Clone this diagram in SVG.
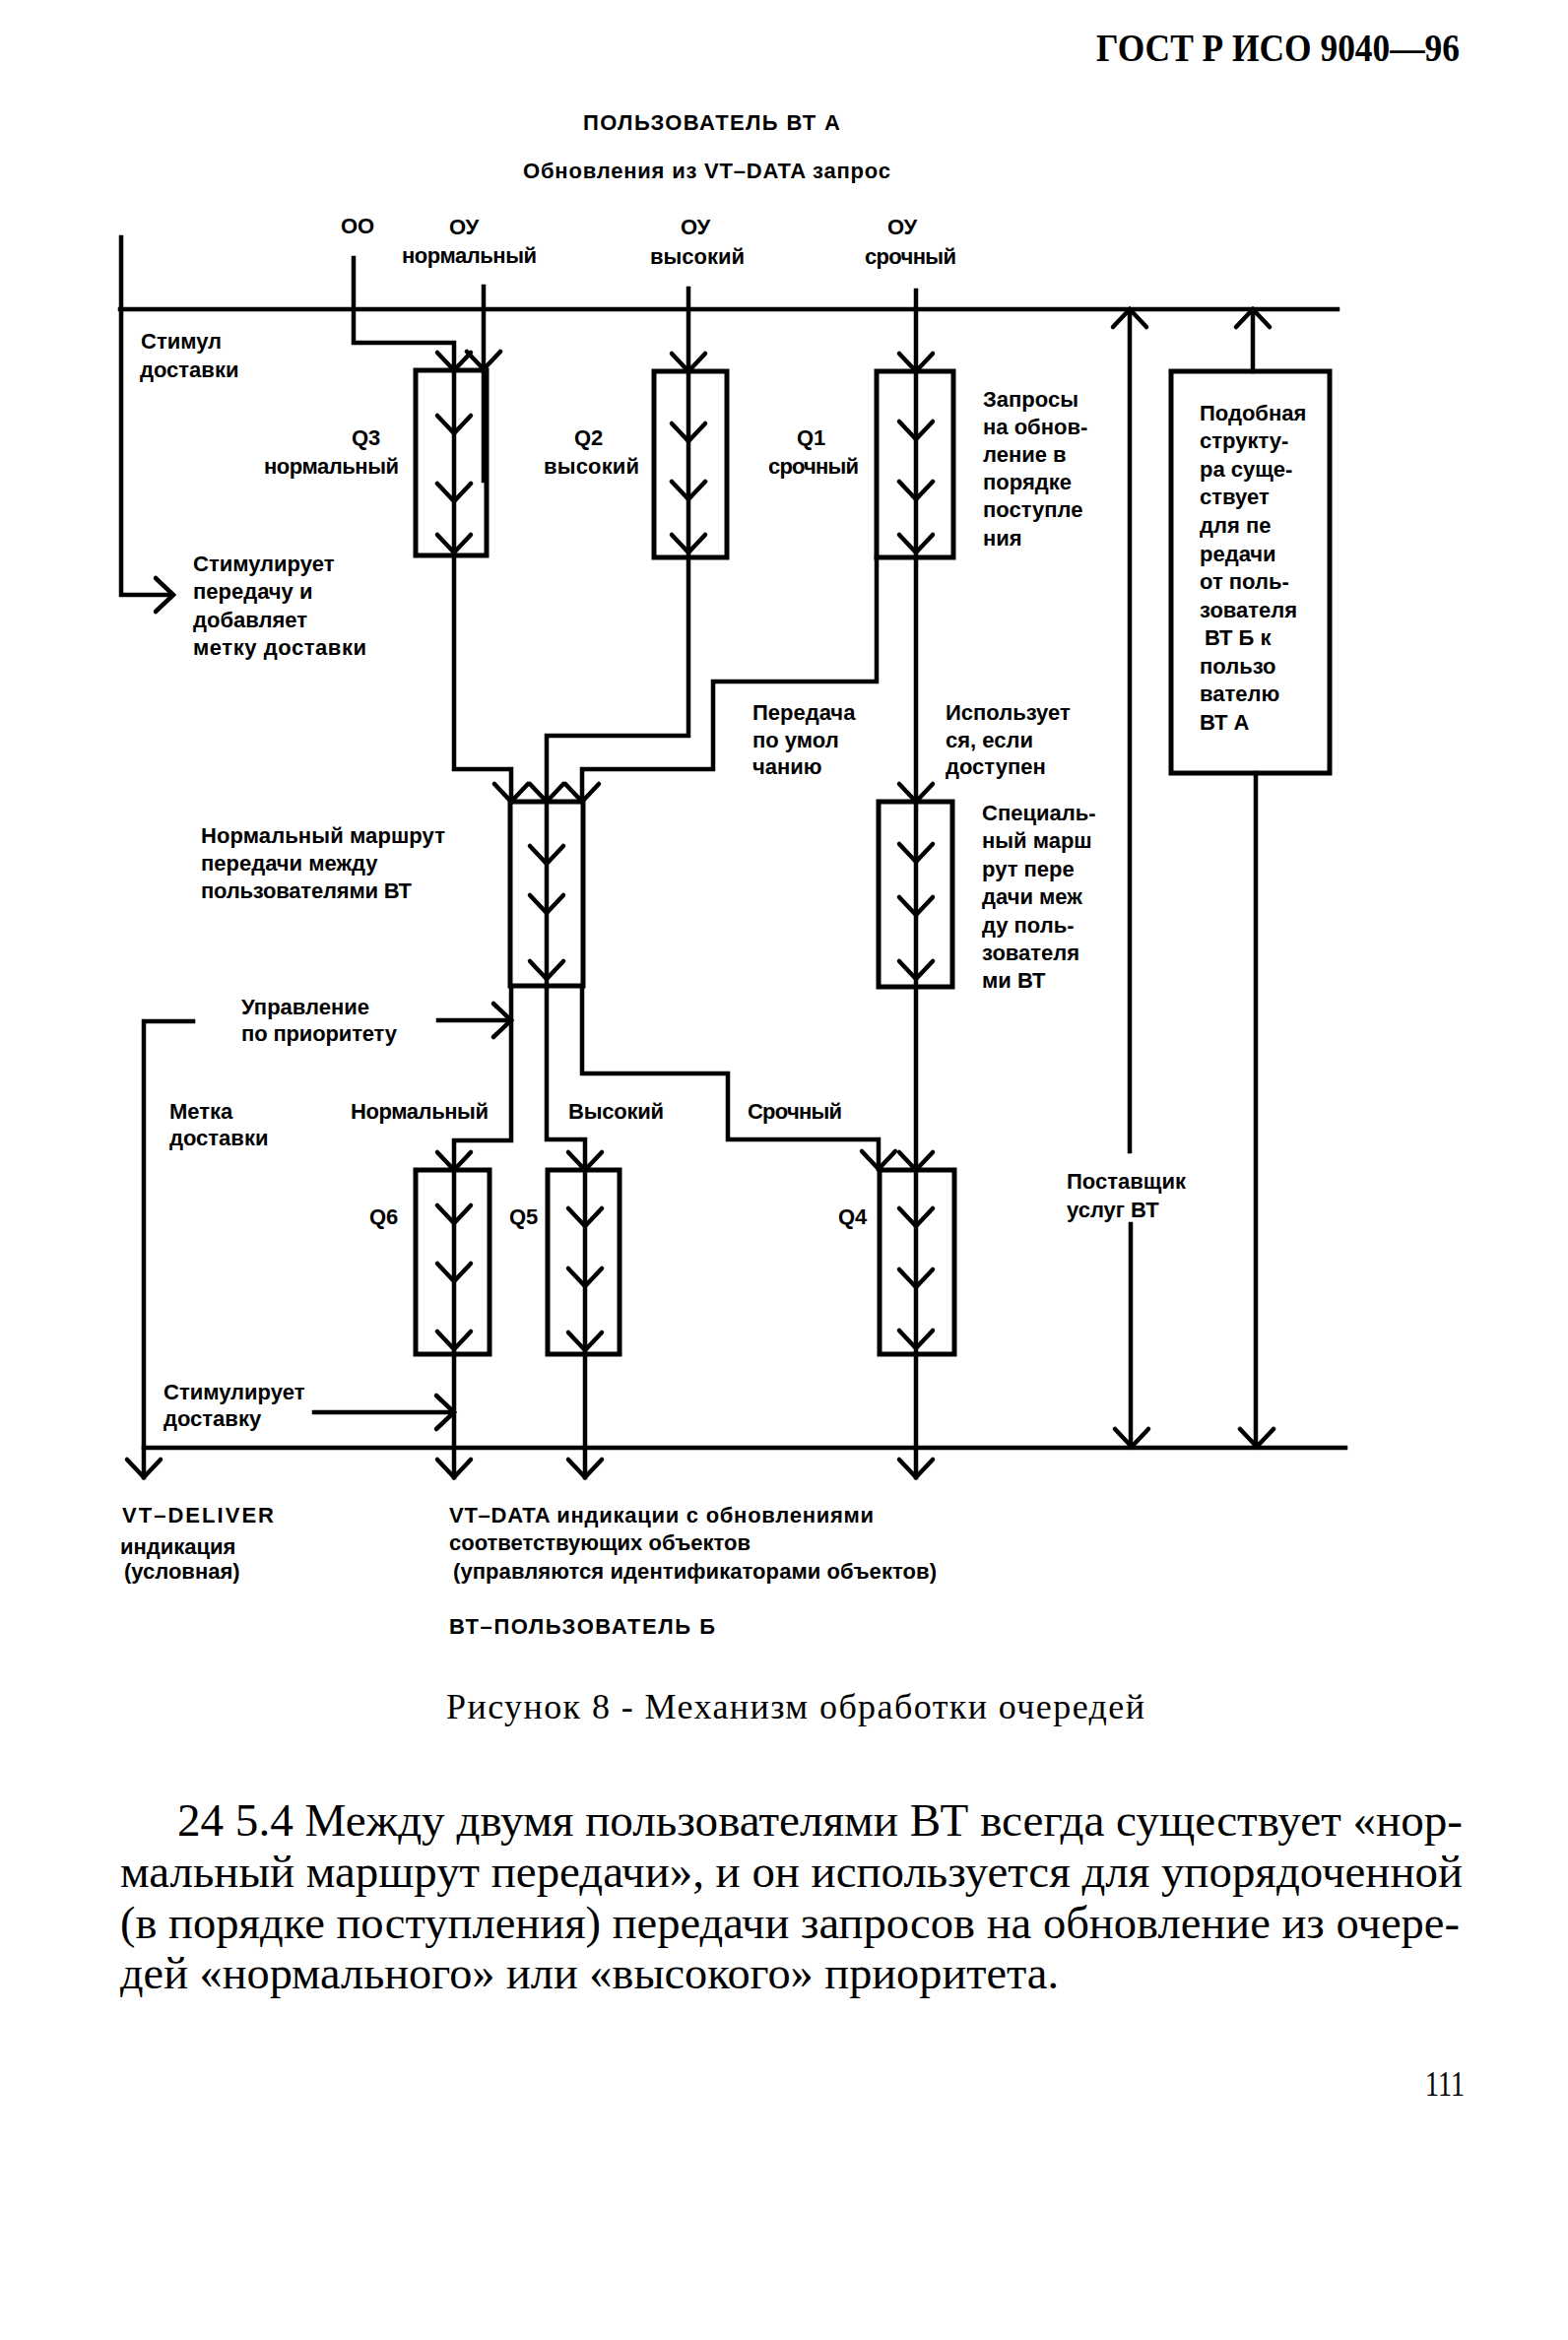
<svg xmlns="http://www.w3.org/2000/svg" xmlns:xlink="http://www.w3.org/1999/xlink" width="1592" height="2376" viewBox="0 0 1592 2376">
<style>
.ln{fill:none;stroke:#000;stroke-width:4.5;stroke-linejoin:miter;stroke-linecap:square}
.bx{fill:none;stroke:#000;stroke-width:5}
.ch{fill:none;stroke:#000;stroke-width:4.5;stroke-linecap:round;stroke-linejoin:miter}
.t{font-family:'Liberation Sans',Arial,sans-serif;font-size:22px;font-weight:bold;fill:#000}
.s{font-family:'Liberation Serif','Times New Roman',serif;fill:#000}
</style>
<defs>
<path id="cd" class="ch" d="M-17,-18 L0,0 L17,-18"/>
<path id="cu" class="ch" d="M-17,18 L0,0 L17,18"/>
<path id="cr" class="ch" d="M-18,-17 L0,0 L-18,17"/>
</defs>
<rect width="1592" height="2376" fill="#fff"/>

<text class="s" x="1113" y="62" font-size="40" font-weight="bold" textLength="369" lengthAdjust="spacingAndGlyphs">ГОСТ Р ИСО 9040—96</text>

<g id="header-labels">
<text class="t" x="592" y="132" textLength="261">ПОЛЬЗОВАТЕЛЬ ВТ А</text>
<text class="t" x="531" y="181" textLength="373">Обновления из VT–DATA запрос</text>
<text class="t" x="346" y="237">ОО</text>
<text class="t" x="456" y="238">ОУ</text>
<text class="t" x="408" y="267" textLength="137">нормальный</text>
<text class="t" x="691" y="238">ОУ</text>
<text class="t" x="660" y="268" textLength="96">высокий</text>
<text class="t" x="901" y="238">ОУ</text>
<text class="t" x="878" y="268" textLength="93">срочный</text>
</g>

<g id="connectors">
<path class="ln" d="M122,314 H1358"/>
<path class="ln" d="M123,241 V604 H174"/>
<path class="ln" d="M359,262 V348 H461 V781 H519 V814"/>
<path class="ln" d="M491,291 V488"/>
<path class="ln" d="M699,293 V747 H555 V814"/>
<path class="ln" d="M930,295 V1500"/>
<path class="ln" d="M890,566 V692 H724 V781 H591 V814"/>
<path class="ln" d="M555,814 V1002"/>
<path class="ln" d="M519,1002 V1158 H461 V1500"/>
<path class="ln" d="M555,1002 V1157 H594 V1500"/>
<path class="ln" d="M591,1002 V1090 H739 V1157 H892 V1187"/>
<path class="ln" d="M445,1036 H517"/>
<path class="ln" d="M196,1037 H146 V1500"/>
<path class="ln" d="M146,1470 H1366"/>
<path class="ln" d="M319,1434 H459"/>
<path class="ln" d="M1147,316 V1169"/>
<path class="ln" d="M1148,1243 V1468"/>
<path class="ln" d="M1272,316 V377"/>
<path class="ln" d="M1275,785 V1468"/>
<use href="#cr" x="176" y="604"/>
<use href="#cr" x="519" y="1036"/>
<use href="#cr" x="461" y="1434"/>
<use href="#cu" x="1147" y="314"/>
<use href="#cu" x="1272" y="314"/>
<use href="#cd" x="1149" y="1469"/>
<use href="#cd" x="1276" y="1469"/>
<use href="#cd" x="146" y="1500"/>
<use href="#cd" x="461" y="1500"/>
<use href="#cd" x="594" y="1500"/>
<use href="#cd" x="930" y="1500"/>
</g>

<g id="q3">
<rect class="bx" x="422" y="376" width="72" height="188"/>
<use href="#cd" x="461" y="376"/><use href="#cd" x="491" y="375"/>
<use href="#cd" x="461" y="440"/><use href="#cd" x="461" y="509"/><use href="#cd" x="461" y="561"/>
<text class="t" x="357" y="452">Q3</text>
<text class="t" x="268" y="481" textLength="137">нормальный</text>
</g>
<g id="q2">
<rect class="bx" x="664" y="377" width="74" height="189"/>
<use href="#cd" x="699" y="377"/><use href="#cd" x="699" y="448"/><use href="#cd" x="699" y="507"/><use href="#cd" x="699" y="561"/>
<text class="t" x="583" y="452">Q2</text>
<text class="t" x="552" y="481" textLength="97">высокий</text>
</g>
<g id="q1">
<rect class="bx" x="890" y="377" width="78" height="189"/>
<use href="#cd" x="930" y="377"/><use href="#cd" x="930" y="446"/><use href="#cd" x="930" y="507"/><use href="#cd" x="930" y="561"/>
<text class="t" x="809" y="452">Q1</text>
<text class="t" x="780" y="481" textLength="92">срочный</text>
<text class="t" x="998" y="413">Запросы</text>
<text class="t" x="998" y="441">на обнов-</text>
<text class="t" x="998" y="469">ление в</text>
<text class="t" x="998" y="497">порядке</text>
<text class="t" x="998" y="525">поступле</text>
<text class="t" x="998" y="554">ния</text>
</g>
<g id="similar">
<rect class="bx" x="1189" y="377" width="161" height="408"/>
<text class="t" x="1218" y="427">Подобная</text>
<text class="t" x="1218" y="455">структу-</text>
<text class="t" x="1218" y="484">ра суще-</text>
<text class="t" x="1218" y="512">ствует</text>
<text class="t" x="1218" y="541">для пе</text>
<text class="t" x="1218" y="570">редачи</text>
<text class="t" x="1218" y="598">от поль-</text>
<text class="t" x="1218" y="627">зователя</text>
<text class="t" x="1223" y="655">ВТ Б к</text>
<text class="t" x="1218" y="684">пользо</text>
<text class="t" x="1218" y="712">вателю</text>
<text class="t" x="1218" y="741">ВТ А</text>
</g>
<g id="normal-route">
<rect class="bx" x="518" y="814" width="74" height="187"/>
<use href="#cd" x="519" y="814"/><use href="#cd" x="555" y="814"/><use href="#cd" x="591" y="814"/>
<use href="#cd" x="555" y="877"/><use href="#cd" x="555" y="927"/><use href="#cd" x="555" y="994"/>
<text class="t" x="204" y="856" textLength="248">Нормальный маршрут</text>
<text class="t" x="204" y="884">передачи между</text>
<text class="t" x="204" y="912" textLength="214">пользователями ВТ</text>
</g>
<g id="special-route">
<rect class="bx" x="892" y="814" width="75" height="188"/>
<use href="#cd" x="930" y="814"/><use href="#cd" x="930" y="875"/><use href="#cd" x="930" y="929"/><use href="#cd" x="930" y="994"/>
<text class="t" x="997" y="833">Специаль-</text>
<text class="t" x="997" y="861">ный марш</text>
<text class="t" x="997" y="890">рут пере</text>
<text class="t" x="997" y="918">дачи меж</text>
<text class="t" x="997" y="947">ду поль-</text>
<text class="t" x="997" y="975">зователя</text>
<text class="t" x="997" y="1003">ми ВТ</text>
</g>
<g id="q6">
<rect class="bx" x="422" y="1188" width="75" height="187"/>
<use href="#cd" x="461" y="1188"/><use href="#cd" x="461" y="1242"/><use href="#cd" x="461" y="1301"/><use href="#cd" x="461" y="1370"/>
<text class="t" x="375" y="1243">Q6</text>
</g>
<g id="q5">
<rect class="bx" x="556" y="1188" width="73" height="187"/>
<use href="#cd" x="594" y="1188"/><use href="#cd" x="594" y="1245"/><use href="#cd" x="594" y="1306"/><use href="#cd" x="594" y="1371"/>
<text class="t" x="517" y="1243">Q5</text>
</g>
<g id="q4">
<rect class="bx" x="893" y="1188" width="76" height="187"/>
<use href="#cd" x="892" y="1187"/><use href="#cd" x="930" y="1188"/><use href="#cd" x="930" y="1245"/><use href="#cd" x="930" y="1307"/><use href="#cd" x="930" y="1369"/>
<text class="t" x="851" y="1243">Q4</text>
</g>

<g id="labels">
<text class="t" x="143" y="354">Стимул</text>
<text class="t" x="142" y="383">доставки</text>
<text class="t" x="196" y="580">Стимулирует</text>
<text class="t" x="196" y="608">передачу и</text>
<text class="t" x="196" y="637">добавляет</text>
<text class="t" x="196" y="665" textLength="176">метку доставки</text>
<text class="t" x="764" y="731">Передача</text>
<text class="t" x="764" y="759">по умол</text>
<text class="t" x="764" y="786">чанию</text>
<text class="t" x="960" y="731">Использует</text>
<text class="t" x="960" y="759">ся, если</text>
<text class="t" x="960" y="786">доступен</text>
<text class="t" x="245" y="1030">Управление</text>
<text class="t" x="245" y="1057" textLength="158">по приоритету</text>
<text class="t" x="172" y="1136">Метка</text>
<text class="t" x="172" y="1163">доставки</text>
<text class="t" x="356" y="1136" textLength="140">Нормальный</text>
<text class="t" x="577" y="1136" textLength="97">Высокий</text>
<text class="t" x="759" y="1136" textLength="96">Срочный</text>
<text class="t" x="1083" y="1207" textLength="121">Поставщик</text>
<text class="t" x="1083" y="1236">услуг ВТ</text>
<text class="t" x="166" y="1421">Стимулирует</text>
<text class="t" x="166" y="1448">доставку</text>
<text class="t" x="124" y="1546" textLength="154">VT–DELIVER</text>
<text class="t" x="122" y="1578">индикация</text>
<text class="t" x="126" y="1603">(условная)</text>
<text class="t" x="456" y="1546" textLength="431">VT–DATA индикации с обновлениями</text>
<text class="t" x="456" y="1574">соответствующих объектов</text>
<text class="t" x="460" y="1603" textLength="491">(управляются идентификаторами объектов)</text>
<text class="t" x="456" y="1659" textLength="270">ВТ–ПОЛЬЗОВАТЕЛЬ Б</text>
</g>

<g id="caption">
<text class="s" x="453" y="1745" font-size="36" textLength="709">Рисунок 8  - Механизм обработки очередей</text>
</g>
<g id="paragraph">
<text class="s" x="180" y="1864" font-size="47" textLength="1305" lengthAdjust="spacingAndGlyphs">24 5.4 Между двумя пользователями ВТ всегда существует «нор-</text>
<text class="s" x="122" y="1916" font-size="47" textLength="1363" lengthAdjust="spacingAndGlyphs">мальный маршрут передачи», и он используется для упорядоченной</text>
<text class="s" x="122" y="1968" font-size="47" textLength="1360" lengthAdjust="spacingAndGlyphs">(в порядке поступления) передачи запросов на обновление из очере-</text>
<text class="s" x="122" y="2019" font-size="47" textLength="953" lengthAdjust="spacingAndGlyphs">дей «нормального» или «высокого» приоритета.</text>
<text class="s" x="1447" y="2128" font-size="36" textLength="40" lengthAdjust="spacingAndGlyphs">111</text>
</g>
</svg>
